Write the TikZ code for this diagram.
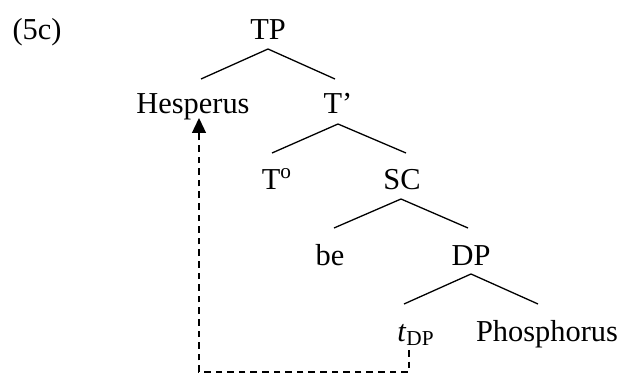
\documentclass[tikz,border=0pt]{standalone}
\usepackage{fontspec}
\setmainfont{Liberation Serif}
\usetikzlibrary{arrows.meta}
\begin{document}
\begin{tikzpicture}[x=0.5pt,y=-0.5pt,
  lab/.style={inner sep=0pt, anchor=base, font=\fontsize{15.2}{18}\selectfont},
  branch/.style={line width=0.65pt},
  move/.style={line width=0.65pt, dash pattern=on 3.3pt off 2.5pt, -{Triangle[length=7.5pt,width=7pt]}}]
\useasboundingbox (0,0) rectangle (621,374);
% labels
\node[lab] (ex)    at (37,40)  {(5c)};
\node[lab] (TP)    at (268,40) {TP};
\node[lab] (Hesp)  at (193,114) {Hesperus};
\node[lab] (Tbar)  at (338,114) {T’};
\node[lab] (T0)    at (277,189) {T\textsuperscript{o}};
\node[lab] (SC)    at (402,189) {SC};
\node[lab] (be)    at (330,265) {be};
\node[lab] (DP)    at (471,265) {DP};
\node[lab] (tDP)   at (416,341) {\textit{t}\textsubscript{DP}};
\node[lab] (Phos)  at (547,341) {Phosphorus};
% branch apexes
\coordinate (aTP)   at (268,49);
\coordinate (aTbar) at (338,124);
\coordinate (aSC)   at (401,199);
\coordinate (aDP)   at (471,274);
\draw[branch] (aTP) -- ++(-67,30) (aTP) -- ++(67,30);
\draw[branch] (aTbar) -- ++(-66,29) (aTbar) -- ++(68,29);
\draw[branch] (aSC) -- ++(-67,29) (aSC) -- ++(67,29);
\draw[branch] (aDP) -- ++(-67,30) (aDP) -- ++(67,30);
% movement arrow
\coordinate (mStart) at (409,350);
\coordinate (mEnd)   at (199,118);
\draw[move] (mStart) -- (409,372) -- (199,372) -- (mEnd);
\end{tikzpicture}
\end{document}
